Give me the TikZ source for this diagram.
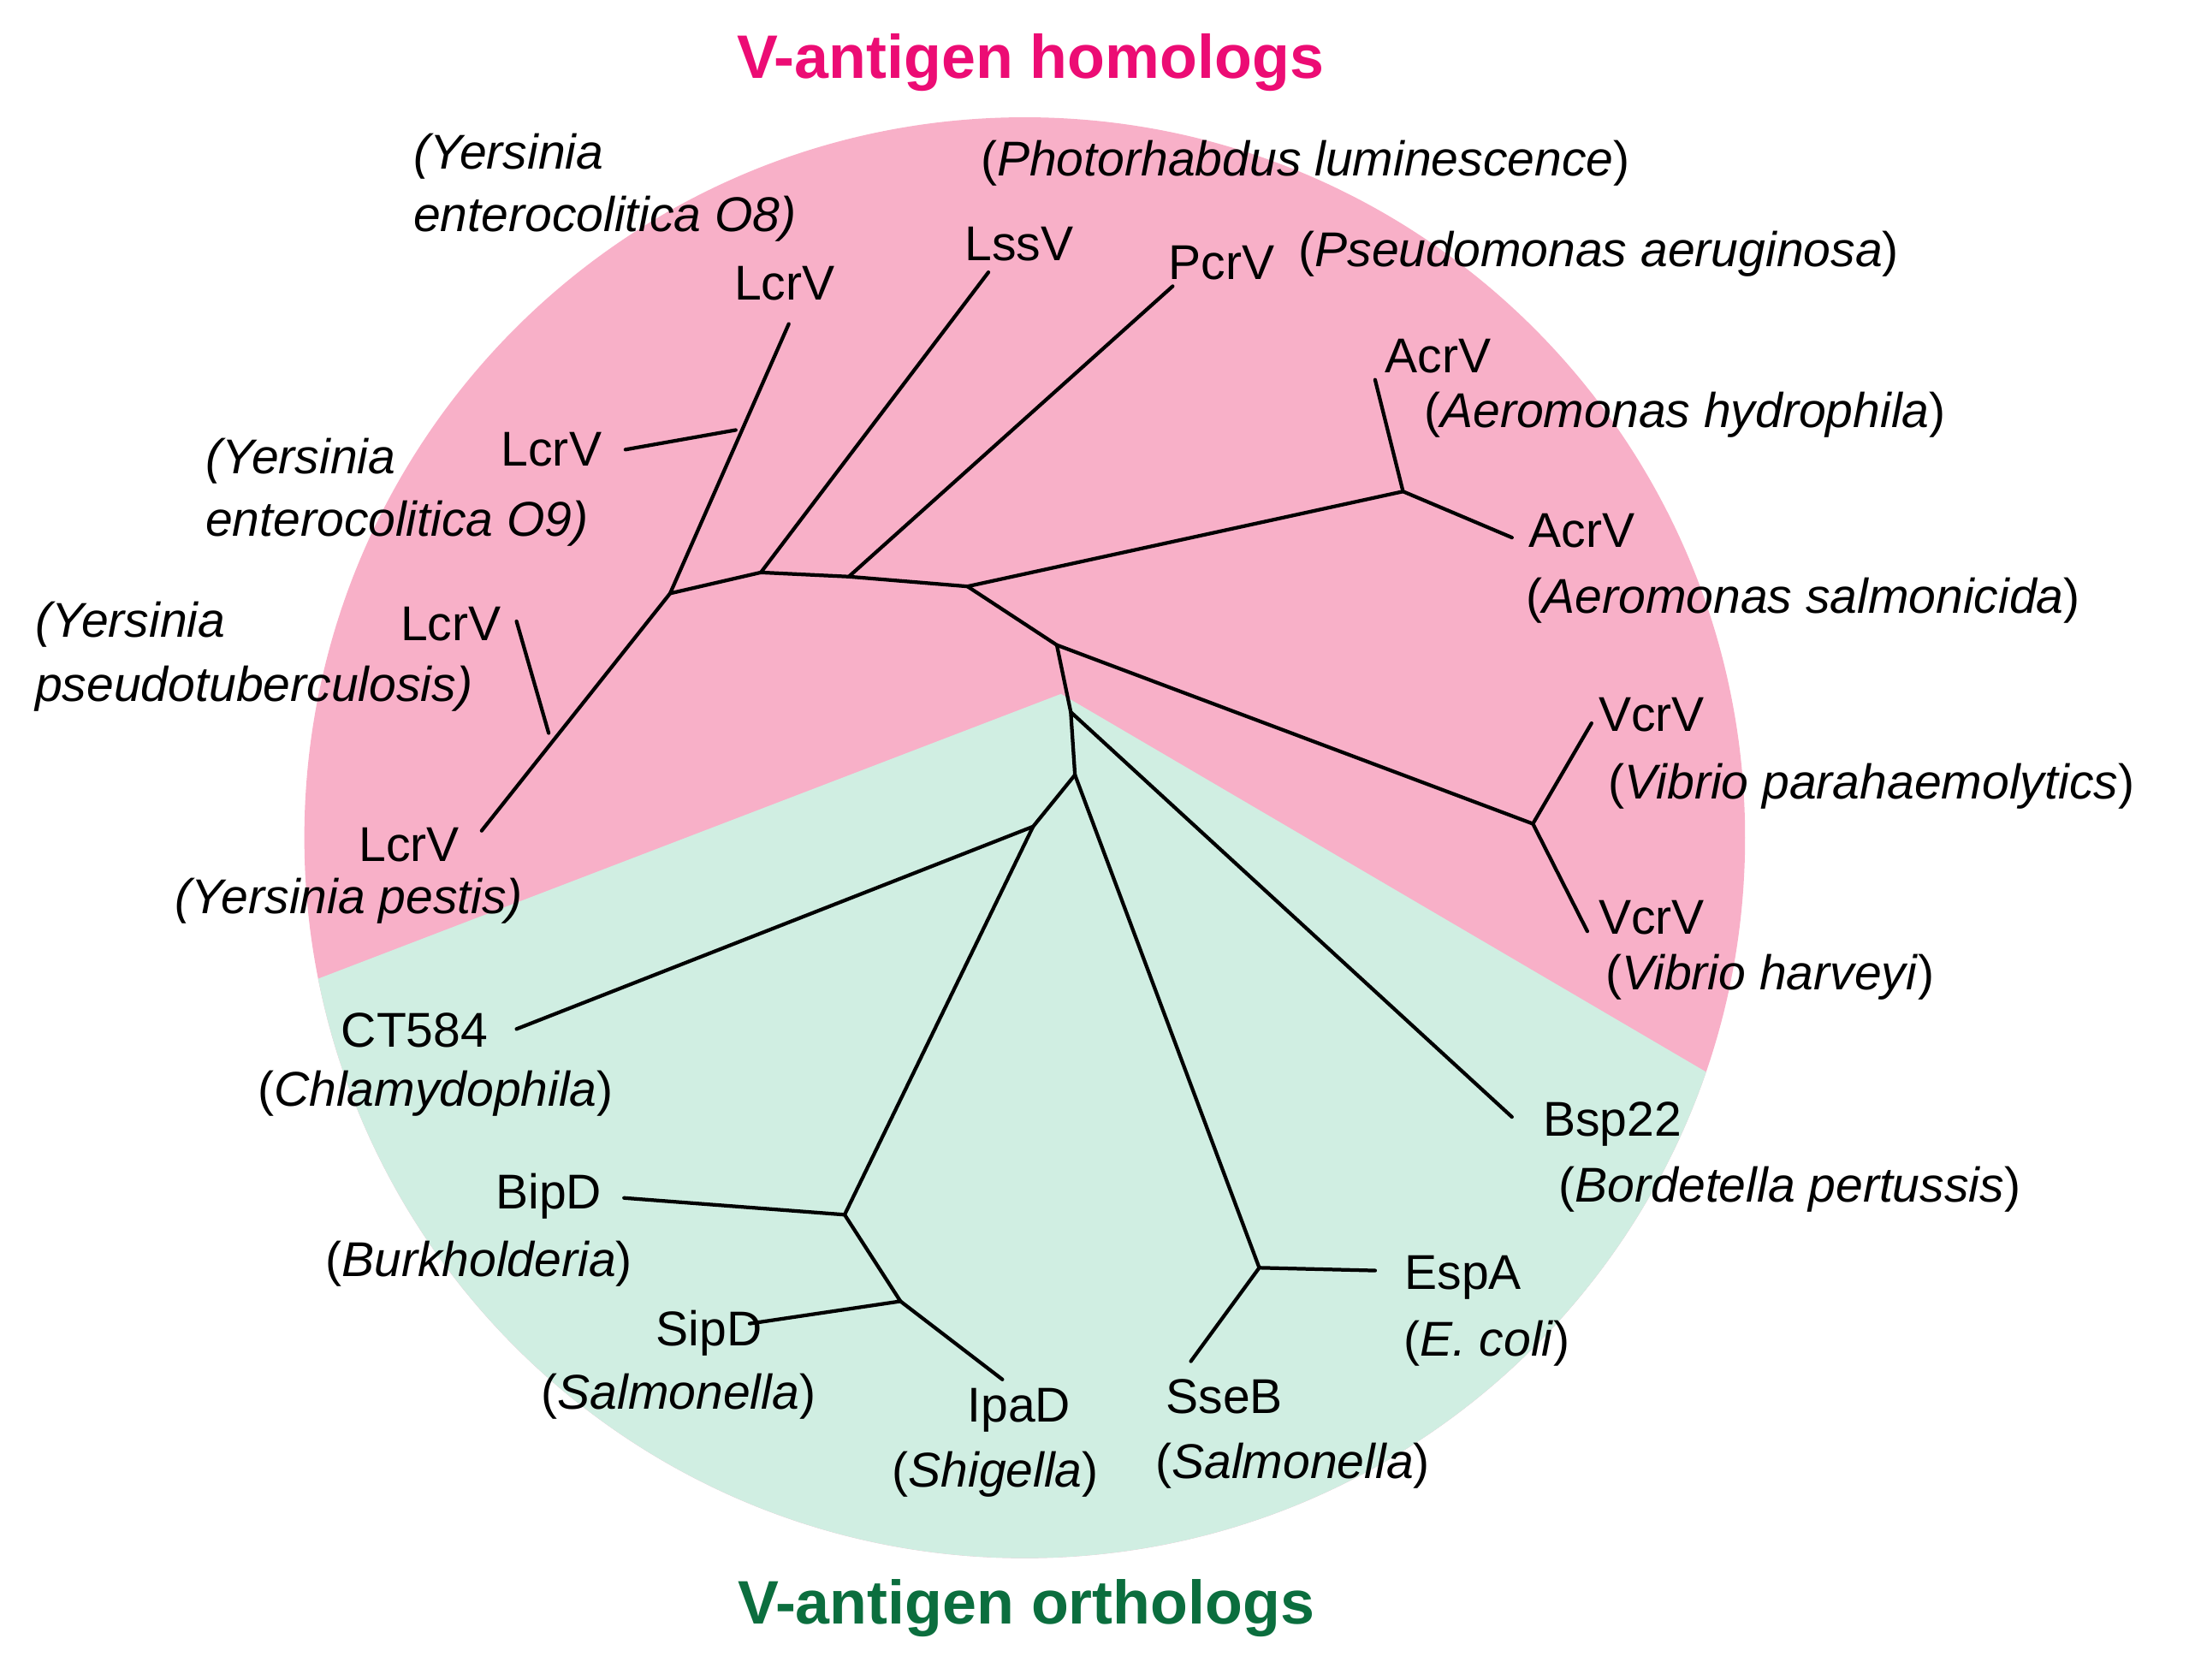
\documentclass[tikz,border=0pt]{standalone}
\usepackage{fontspec}
\setmainfont{Liberation Sans}
\begin{document}
\begin{tikzpicture}[x=1pt,y=-1pt,
  br/.style={line width=2.6pt,line cap=round},
  lab/.style={inner sep=0pt,font=\fontsize{35}{40}\selectfont},
  ttl/.style={inner sep=0pt,font=\fontsize{44}{50}\selectfont\bfseries}]
\definecolor{pinkbg}{HTML}{F8B0C8}
\definecolor{greenbg}{HTML}{D0EEE2}
\definecolor{pinkt}{HTML}{EC0C74}
\definecolor{greent}{HTML}{0B6E3E}
\useasboundingbox (0,0) rectangle (1568,1203);
\begin{scope}
\clip (734,600) circle (516);
\fill[pinkbg] (0,0) rectangle (1568,1203);
\fill[greenbg] (100,750) -- (760,497) -- (1400,872) -- (1400,1300) -- (100,1300) -- cycle;
\end{scope}
% coordinates
\coordinate (A) at (693,420);
\coordinate (B) at (608,413);
\coordinate (B2) at (545,410);
\coordinate (Y) at (480,425);
\coordinate (Y8) at (527,308);
\coordinate (Yt) at (565,232);
\coordinate (Yo9) at (448,322);
\coordinate (Yp) at (393,525);
\coordinate (Ypt) at (370,445);
\coordinate (Ype) at (345,595);
\coordinate (Lss) at (708,195);
\coordinate (Pcr) at (840,205);
\coordinate (Ac) at (1005,352);
\coordinate (Ac1) at (985,272);
\coordinate (Ac2) at (1083,385);
\coordinate (C) at (757,462);
\coordinate (Vc) at (1098,590);
\coordinate (Vc1) at (1140,518);
\coordinate (Vc2) at (1137,667);
\coordinate (D) at (767,510);
\coordinate (E) at (770,555);
\coordinate (Bsp) at (1083,800);
\coordinate (F) at (740,592);
\coordinate (CT) at (370,737);
\coordinate (G) at (605,870);
\coordinate (Bip) at (447,858);
\coordinate (H) at (645,932);
\coordinate (Sip) at (537,948);
\coordinate (Ipa) at (718,988);
\coordinate (I) at (902,908);
\coordinate (Esp) at (985,910);
\coordinate (Sse) at (853,975);
% branches
\draw[br] (Y) -- (B2) -- (B) -- (A) -- (Ac);
\draw[br] (Y) -- (Yt); \draw[br] (Yo9) -- (Y8);
\draw[br] (Y) -- (Ype); \draw[br] (Yp) -- (Ypt);
\draw[br] (B2) -- (Lss); \draw[br] (B) -- (Pcr);
\draw[br] (Ac1) -- (Ac) -- (Ac2);
\draw[br] (A) -- (C) -- (Vc); \draw[br] (Vc1) -- (Vc) -- (Vc2);
\draw[br] (C) -- (D) -- (E) -- (F) -- (CT);
\draw[br] (D) -- (Bsp);
\draw[br] (F) -- (G) -- (Bip); \draw[br] (G) -- (H) -- (Sip); \draw[br] (H) -- (Ipa);
\draw[br] (E) -- (I) -- (Esp); \draw[br] (I) -- (Sse);
% titles
\node[ttl,text=pinkt] (t1) at (738,45) {V-antigen homologs};
\node[ttl,text=greent] (t2) at (735,1152) {V-antigen orthologs};
% labels
\node[lab,anchor=west] (n1) at (296,112) {\itshape (Yersinia};
\node[lab,anchor=west] (n2) at (296,157) {\itshape enterocolitica O8)};
\node[lab] (n3) at (562,203) {LcrV};
\node[lab] (n4) at (730,175) {LssV};
\node[lab] (n5) at (935,117) {(\textit{Photorhabdus luminescence})};
\node[lab] (n6) at (875,188) {PcrV};
\node[lab,anchor=west] (n7) at (930,182) {(\textit{Pseudomonas aeruginosa})};
\node[lab] (n8) at (1030,255) {AcrV};
\node[lab,anchor=west] (n9) at (1020,297) {(\textit{Aeromonas hydrophila})};
\node[lab] (n10) at (1133,380) {AcrV};
\node[lab,anchor=west] (n11) at (1093,430) {(\textit{Aeromonas salmonicida})};
\node[lab] (n12) at (1183,512) {VcrV};
\node[lab,anchor=west] (n13) at (1152,563) {(\textit{Vibrio parahaemolytics})};
\node[lab] (n14) at (1183,657) {VcrV};
\node[lab,anchor=west] (n15) at (1150,700) {(\textit{Vibrio harveyi})};
\node[lab] (n16) at (395,322) {LcrV};
\node[lab,anchor=west] (n17) at (147,330) {\itshape (Yersinia};
\node[lab,anchor=west] (n18) at (147,375) {\itshape enterocolitica O9)};
\node[lab] (n19) at (323,447) {LcrV};
\node[lab,anchor=west] (n20) at (25,447) {\itshape (Yersinia};
\node[lab,anchor=west] (n21) at (25,493) {\itshape pseudotuberculosis)};
\node[lab] (n22) at (293,605) {LcrV};
\node[lab] (n23) at (250,645) {\itshape (Yersinia pestis)};
\node[lab] (n24) at (297,738) {CT584};
\node[lab] (n25) at (312,783) {(\textit{Chlamydophila})};
\node[lab] (n26) at (393,857) {BipD};
\node[lab] (n27) at (343,905) {(\textit{Burkholderia})};
\node[lab] (n28) at (508,955) {SipD};
\node[lab] (n29) at (486,1000) {(\textit{Salmonella})};
\node[lab] (n30) at (730,1010) {IpaD};
\node[lab] (n31) at (713,1056) {(\textit{Shigella})};
\node[lab] (n32) at (877,1000) {SseB};
\node[lab] (n33) at (926,1050) {(\textit{Salmonella})};
\node[lab] (n34) at (1048,915) {EspA};
\node[lab] (n35) at (1065,962) {(\textit{E. coli})};
\node[lab] (n36) at (1155,805) {Bsp22};
\node[lab] (n37) at (1282,852) {(\textit{Bordetella pertussis})};
\end{tikzpicture}
\end{document}
